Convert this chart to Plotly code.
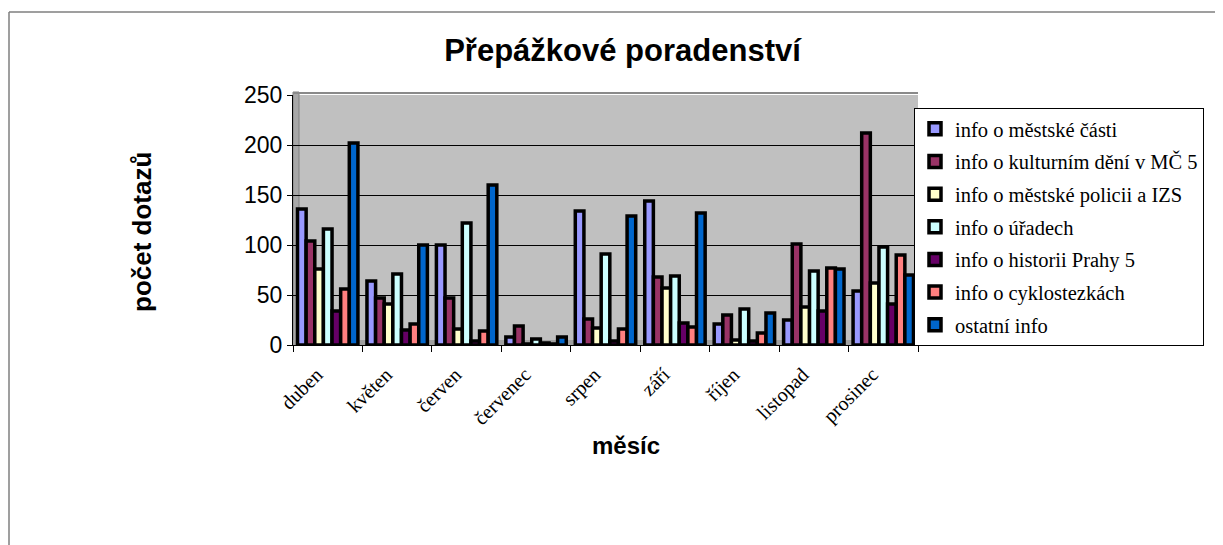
import plotly.graph_objects as go

months = ["duben", "květen", "červen", "červenec", "srpen", "září", "říjen", "listopad", "prosinec"]

series_names = [
    "info o městské části",
    "info o kulturním dění v MČ 5",
    "info o městské policii a IZS",
    "info o úřadech",
    "info o historii Prahy 5",
    "info o cyklostezkách",
    "ostatní info",
]

mestske_casti = [136, 64, 100, 8, 134, 144, 21, 25, 54]
kulturni_deni = [104, 47, 47, 19, 26, 68, 30, 101, 212]
mestska_policie = [76, 41, 16, 1, 17, 57, 5, 38, 62]
urady = [116, 71, 122, 6, 91, 69, 36, 74, 98]
historie = [34, 15, 4, 2, 4, 22, 4, 34, 41]
cyklostezky = [56, 21, 14, 1, 16, 18, 12, 77, 90]
ostatni = [202, 100, 160, 8, 129, 132, 32, 76, 70]

series_values = [mestske_casti, kulturni_deni, mestska_policie, urady, historie, cyklostezky, ostatni]
colors = ["#9999FF", "#993366", "#FFFFCC", "#CCFFFF", "#660066", "#FF8080", "#0066CC"]

# page body has an 8px margin; work in screenshot coordinates and convert
OFF = 8
W, H = 1215, 537
PX0, PX1, PY0, PY1 = 293, 918, 95, 345  # plot area in screenshot pixels
L = PX0 - OFF
T = PY0 - OFF
R = W - (PX1 - OFF)
B = H - (PY1 - OFF)
pw = PX1 - PX0
ph = PY1 - PY0


def px_x(p):
    return (p - PX0) / pw


def px_y(p):
    return (PY1 - p) / ph


fig = go.Figure()
for name, vals, col in zip(series_names, series_values, colors):
    fig.add_trace(go.Bar(
        name=name, x=months, y=vals, legendgroup=name,
        marker=dict(color=col, line=dict(color="black", width=3.5)),
    ))

shapes = [
    # outer chart border (left + top)
    dict(type="line", xref="paper", yref="paper", x0=px_x(9), x1=px_x(9), y0=px_y(600), y1=px_y(12),
         line=dict(color="#7f7f7f", width=1.5)),
    dict(type="line", xref="paper", yref="paper", x0=px_x(9), x1=px_x(1260), y0=px_y(12), y1=px_y(12),
         line=dict(color="#7f7f7f", width=1.5)),
    # 3D wall edges
    dict(type="rect", xref="paper", yref="paper", x0=0, x1=px_x(PX0 + 6), y0=px_y(345), y1=px_y(92),
         fillcolor="#A8A8A8", line=dict(color="#808080", width=1), layer="below"),
    dict(type="rect", xref="paper", yref="paper", x0=0, x1=1, y0=px_y(345), y1=px_y(340),
         fillcolor="#A0A0A0", line=dict(width=0), layer="below"),
    dict(type="line", xref="paper", yref="paper", x0=0, x1=1, y0=px_y(93), y1=px_y(93),
         line=dict(color="#8a8a8a", width=2)),
]

annotations = [
    dict(text="<b>počet dotazů</b>", xref="paper", yref="paper", x=px_x(125), y=px_y(232),
         textangle=-90, showarrow=False, font=dict(family="Liberation Sans", size=26, color="black")),
    dict(text="<b>měsíc</b>", xref="paper", yref="paper", x=px_x(626), y=px_y(461),
         showarrow=False, font=dict(family="Liberation Sans", size=24, color="black")),
]

fig.update_layout(
    width=W, height=H,
    margin=dict(l=L, r=R, t=T, b=B, pad=0),
    paper_bgcolor="white",
    plot_bgcolor="#C0C0C0",
    barmode="group",
    bargap=0.13,
    bargroupgap=0.0,
    title=dict(text="<b>Přepážkové poradenství</b>", xref="container", yref="container",
               x=(622.5 - OFF) / W, xanchor="center", y=1 - (50 - OFF) / H, yanchor="middle",
               font=dict(family="Liberation Sans", size=31, color="black")),
    legend=dict(
        x=px_x(914), xanchor="left", y=px_y(108), yanchor="top",
        bgcolor="white", bordercolor="black", borderwidth=1,
        font=dict(family="Liberation Serif", size=20.5, color="black"),
        tracegroupgap=3, traceorder="grouped", maxheight=400,
    ),
    shapes=shapes,
    annotations=annotations,
    showlegend=True,
)

fig.update_yaxes(
    range=[0, 250], tickvals=[0, 50, 100, 150, 200, 250],
    showgrid=True, gridcolor="black", gridwidth=1,
    showline=True, linecolor="black", linewidth=1,
    ticks="outside", ticklen=5, tickcolor="black",
    tickfont=dict(family="Liberation Sans", size=23, color="black"),
    zeroline=False,
)
fig.update_xaxes(
    type="category",
    showline=True, linecolor="black", linewidth=1,
    ticks="outside", ticklen=6, tickcolor="black", tickson="boundaries",
    tickangle=-45,
    tickfont=dict(family="Liberation Serif", size=20, color="black"),
    ticklabelshift=-11, ticklabelstandoff=9,
    showgrid=False,
)

fig.write_html("out.html")
